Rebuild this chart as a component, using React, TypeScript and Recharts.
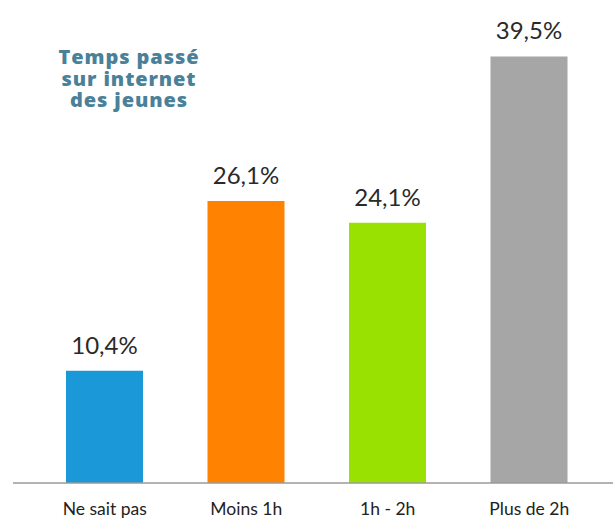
import React from "react";
import { BarChart, Bar, XAxis, YAxis, Cell, LabelList } from "recharts";

const categories = ["Ne sait pas", "Moins 1h", "1h - 2h", "Plus de 2h"];
const values = [10.4, 26.1, 24.1, 39.5];
const valueLabels = ["10,4%", "26,1%", "24,1%", "39,5%"];
const colors = ["#1b98d8", "#ff8300", "#98e100", "#a6a6a6"];
const titleLines = ["Temps passé", "sur internet", "des jeunes"];

const data = categories.map((c, i) => ({ name: c, value: values[i], label: valueLabels[i] }));

export default function App() {
  return (
    <div style={{ position: "absolute", left: 0, top: 0, width: 613, height: 521, background: "#fff" }}>
      <BarChart
        width={613}
        height={521}
        data={data}
        margin={{ top: 51, right: 0, bottom: 8, left: 13 }}
        barSize={77}
      >
        <YAxis hide domain={[0, 40]} />
        <XAxis
          dataKey="name"
          height={30}
          padding={{ left: 21, right: 13 }}
          tickLine={false}
          axisLine={{ stroke: "#9a9a9a", strokeWidth: 1.5 }}
          tickMargin={14}
          tick={{ fill: "#222", fontSize: 17.5, fontFamily: "Lato" }}
          interval={0}
        />
        <Bar dataKey="value" isAnimationActive={false}>
          {data.map((d, i) => (
            <Cell key={i} fill={colors[i]} />
          ))}
          <LabelList
            dataKey="label"
            position="top"
            offset={17}
            style={{ fill: "#2a2a2a", fontSize: 24, fontFamily: "Lato" }}
          />
        </Bar>
      </BarChart>
      <div
        style={{
          position: "absolute",
          left: 29,
          top: 46,
          width: 200,
          textAlign: "center",
          color: "#4a8199",
          fontFamily: "'Open Sans'",
          fontWeight: 800,
          fontSize: 20,
          lineHeight: "21.5px",
          letterSpacing: 0.9,
        }}
      >
        {titleLines.map((t, i) => (
          <div key={i}>{t}</div>
        ))}
      </div>
    </div>
  );
}
